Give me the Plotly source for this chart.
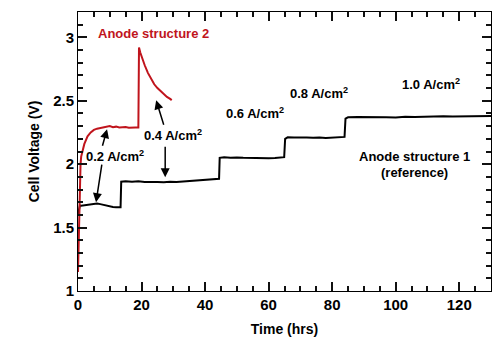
import plotly.graph_objects as go

# Anode structure 1 (reference) - black
t1 = [0, 0.1, 0.3, 0.6, 1, 2, 3, 4, 5, 6, 7, 8, 9, 10, 11, 12, 13.4,
      13.6, 15, 17, 19, 21, 23, 25, 27, 29, 31, 33, 35, 37, 39, 41, 43, 44.4,
      44.6, 46, 48, 50, 52, 54, 56, 58, 60, 62, 64, 64.9,
      65.2, 66, 68, 70, 72, 74, 76, 78, 80, 82, 83.9,
      84.2, 85, 88, 91, 94, 97, 100, 103, 106, 109, 112, 115, 118, 121, 124, 127, 130]
v1 = [1.6, 1.62, 1.66, 1.675, 1.672, 1.675, 1.68, 1.682, 1.685, 1.69, 1.685, 1.678, 1.672, 1.668, 1.663, 1.66, 1.66,
      1.862, 1.866, 1.862, 1.865, 1.86, 1.862, 1.86, 1.858, 1.862, 1.86, 1.864, 1.866, 1.87, 1.872, 1.876, 1.88, 1.885,
      2.05, 2.055, 2.05, 2.053, 2.05, 2.048, 2.047, 2.045, 2.046, 2.048, 2.05, 2.055,
      2.2, 2.212, 2.21, 2.212, 2.21, 2.208, 2.21, 2.206, 2.208, 2.21, 2.215,
      2.36, 2.37, 2.372, 2.372, 2.374, 2.37, 2.368, 2.374, 2.372, 2.375, 2.374, 2.377, 2.376, 2.378, 2.378, 2.38, 2.38]

# Anode structure 2 - red
t2 = [0, 0.2, 0.4, 0.6, 0.8, 1.0, 1.5, 2, 2.5, 3, 4, 5, 6, 7, 8, 9, 10, 11, 12, 13, 14, 15, 16, 17, 18, 19,
      19.2, 19.6, 20, 21, 22, 23, 24, 25, 26, 27, 28, 29, 29.5]
v2 = [1.15, 1.4, 1.7, 1.9, 2.0, 2.06, 2.12, 2.16, 2.19, 2.22, 2.25, 2.27, 2.28, 2.285, 2.29, 2.295, 2.3, 2.292, 2.296,
      2.29, 2.292, 2.293, 2.288, 2.291, 2.29, 2.29,
      2.92, 2.88, 2.85, 2.78, 2.72, 2.67, 2.63, 2.6, 2.575, 2.55, 2.53, 2.515, 2.505]

x_major = 20
x_minor = 5
y_major = 0.5
y_minor = 0.1
x_range = [0, 130]
y_range = [1, 3.2]

FONT = "Liberation Sans, Arial, sans-serif"
RED = "#c0141c"

fig = go.Figure()
fig.add_trace(go.Scatter(x=t1, y=v1, mode="lines", line=dict(color="black", width=2), showlegend=False))
fig.add_trace(go.Scatter(x=t2, y=v2, mode="lines", line=dict(color=RED, width=2), showlegend=False))

fig.update_xaxes(range=x_range, tick0=0, dtick=x_major, ticks="inside", ticklen=9, tickwidth=2,
                 tickcolor="#111111", showline=True, linecolor="black", mirror="ticks",
                 showgrid=False, tickfont=dict(size=15, weight="bold"),
                 minor=dict(tick0=0, dtick=x_minor, ticks="inside", ticklen=5, tickwidth=2,
                            tickcolor="#111111", showgrid=False),
                 title=dict(text="<b>Time (hrs)</b>", font=dict(size=14), standoff=12))
fig.update_yaxes(range=y_range, tick0=1, dtick=y_major, ticks="inside", ticklen=9, tickwidth=2,
                 tickcolor="#111111", showline=True, linecolor="black", mirror="ticks",
                 showgrid=False, tickfont=dict(size=15, weight="bold"),
                 minor=dict(tick0=1, dtick=y_minor, ticks="inside", ticklen=5, tickwidth=2,
                            tickcolor="#111111", showgrid=False),
                 title=dict(text="<b>Cell Voltage (V)</b>", font=dict(size=14), standoff=10))

texts = [
    (154, 33, "<b>Anode structure 2</b>", RED),
    (116, 156, "<b>0.2 A/cm<sup>2</sup></b>", "black"),
    (174, 135, "<b>0.4 A/cm<sup>2</sup></b>", "black"),
    (256, 113, "<b>0.6 A/cm<sup>2</sup></b>", "black"),
    (319, 93, "<b>0.8 A/cm<sup>2</sup></b>", "black"),
    (431, 84, "<b>1.0 A/cm<sup>2</sup></b>", "black"),
    (415, 156, "<b>Anode structure 1</b>", "black"),
    (415, 172, "<b>(reference)</b>", "black"),
]


def px2t(px):
    return (px - 79) / 3.17


def py2v(py):
    return 1 + (291 - py) / 127.0


for px, py, txt, col in texts:
    fig.add_annotation(x=px2t(px), y=py2v(py), text=txt, showarrow=False,
                       font=dict(size=13, color=col), xanchor="center", yanchor="middle")

arrows = [
    ((108, 129), (103, 147)),
    ((97, 202), (103, 163)),
    ((157, 100), (165, 126)),
    ((166, 177), (166, 145)),
]
for (tx, ty), (sx, sy) in arrows:
    fig.add_annotation(x=px2t(tx), y=py2v(ty), ax=px2t(sx), ay=py2v(sy), axref="x", ayref="y",
                       xref="x", yref="y", text="", showarrow=True, arrowhead=2, arrowsize=1.2,
                       arrowwidth=1.5, arrowcolor="black")

fig.update_layout(width=500, height=354, margin=dict(l=78, r=9, t=12, b=63),
                  paper_bgcolor="white", plot_bgcolor="white", template="none",
                  font=dict(family=FONT, size=15, color="black"))

fig.write_html("out.html")
